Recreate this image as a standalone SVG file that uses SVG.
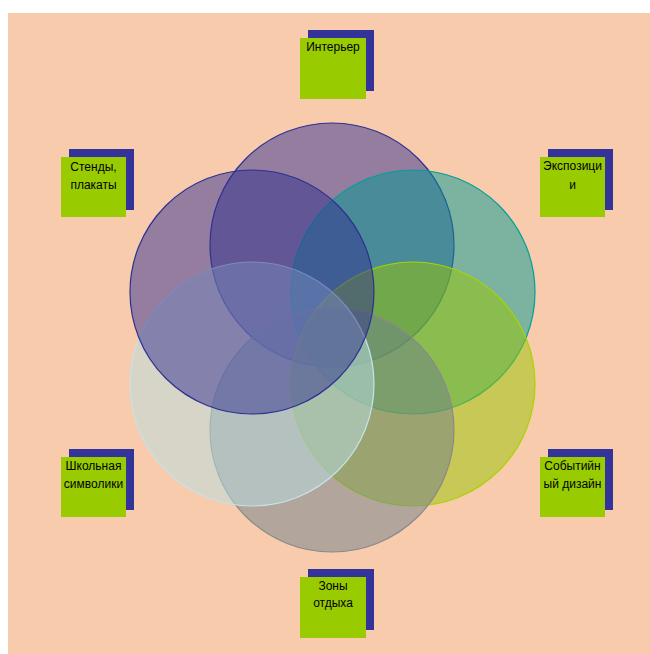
<svg xmlns="http://www.w3.org/2000/svg" width="650" height="654" viewBox="0 0 650 654">
<style>
.c{stroke-width:1.2;fill-opacity:0.5}
.sh{fill:#333399}
.bx{fill:#99CC00}
.t{font-family:"Liberation Sans",Arial,sans-serif;font-size:12px;fill:#000;text-anchor:middle}
</style>
<rect x="0" y="0" width="650" height="654" fill="#ffffff"/>
<rect x="8" y="13" width="642" height="641" fill="#F7CBAC"/>
<g id="circles">
<circle id="c-top" class="c" cx="332" cy="245" r="122" fill="#31308F" stroke="#2E3192"/>
<circle id="c-tr" class="c" cx="413" cy="292" r="122" fill="#009994" stroke="#00A09A"/>
<circle id="c-br" class="c" cx="413" cy="384" r="122" fill="#99C500" stroke="#A8D400"/>
<circle id="c-b" class="c" cx="332" cy="430" r="122" fill="#6D7F8A" stroke="#8A8A8A"/>
<circle id="c-bl" class="c" cx="252" cy="384" r="122" fill="#B7DDE4" stroke="#C6E3E8"/>
<circle id="c-tl" class="c" cx="252" cy="292" r="122" fill="#31308F" stroke="#2E3192"/>
</g>
<g id="n-interior">
<rect class="sh" x="308" y="30" width="66" height="61"/>
<rect class="bx" x="300" y="38" width="66" height="61"/>
<text class="t" x="333" y="51">Интерьер</text>
</g>
<g id="n-stands">
<rect class="sh" x="69" y="149" width="65" height="61"/>
<rect class="bx" x="61" y="157" width="65" height="60"/>
<text class="t" x="93.5" y="171">Стенды,</text>
<text class="t" x="93.5" y="189">плакаты</text>
</g>
<g id="n-expo">
<rect class="sh" x="548" y="149" width="65" height="61"/>
<rect class="bx" x="540" y="157" width="65" height="60"/>
<text class="t" x="572.5" y="170">Экспозици</text>
<text class="t" x="572.5" y="189">и</text>
</g>
<g id="n-school">
<rect class="sh" x="69" y="449" width="65" height="61"/>
<rect class="bx" x="61" y="457" width="65" height="60"/>
<text class="t" x="93.5" y="470">Школьная</text>
<text class="t" x="93.5" y="488">символики</text>
</g>
<g id="n-event">
<rect class="sh" x="548" y="449" width="65" height="61"/>
<rect class="bx" x="540" y="457" width="65" height="60"/>
<text class="t" x="572.5" y="470">Событийн</text>
<text class="t" x="572.5" y="488">ый дизайн</text>
</g>
<g id="n-rest">
<rect class="sh" x="308" y="569" width="66" height="61"/>
<rect class="bx" x="300" y="577" width="66" height="61"/>
<text class="t" x="333" y="590">Зоны</text>
<text class="t" x="333" y="607">отдыха</text>
</g>
</svg>
